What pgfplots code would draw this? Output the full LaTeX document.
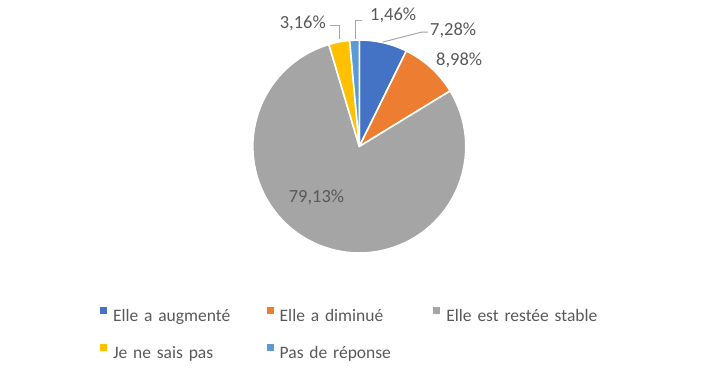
\documentclass[border=0pt]{standalone}
\usepackage{fontspec}
\setmainfont{Carlito}
\usepackage{pgfplots}
\usepackage{pgfplotstable}
\pgfplotsset{compat=1.18}
\definecolor{cBlue}{HTML}{4472C4}
\definecolor{cOrange}{HTML}{ED7D31}
\definecolor{cGray}{HTML}{A5A5A5}
\definecolor{cYellow}{HTML}{FFC000}
\definecolor{cLight}{HTML}{5B9BD5}
\definecolor{cText}{HTML}{595959}
\definecolor{cLead}{HTML}{A6A6A6}

\pgfplotstableread{
value
7.28
8.98
79.13
3.16
1.46
}\piedata
\pgfplotstablecreatecol[create col/expr accum={\pgfmathaccuma + \thisrow{value}}{0}]{cum}\piedata

\newcommand\pieslice[2]{%
  \pgfplotstablegetelem{#1}{value}\of\piedata \edef\sv{\pgfplotsretval}%
  \pgfplotstablegetelem{#1}{cum}\of\piedata \edef\sc{\pgfplotsretval}%
  \pgfmathsetmacro\aend{90-3.6*\sc}%
  \pgfmathsetmacro\astart{90-3.6*(\sc-\sv)}%
  \edef\temp{\noexpand\addplot[forget plot, fill=#2, draw=white, line width=1.6pt, line join=round, domain=\aend:\astart, samples=90] ({359.3+106.5*cos(x)},{229.5+106.5*sin(x)}) -- (axis cs:359.3,229.5) -- cycle;}%
  \temp
}

\newcommand\lblfont{\fontsize{18.5}{21}\selectfont}

\begin{document}
\begin{tikzpicture}
\begin{axis}[
  width=719pt, height=376pt, scale only axis,
  xmin=0, xmax=719, ymin=0, ymax=376,
  hide axis, clip=false,
  legend columns=3,
  legend cell align=left,
  legend image code/.code={\fill[#1, draw=none] (0pt,3pt) rectangle (7pt,10pt);},
  legend style={at={(axis cs:100,69)}, anchor=north west, draw=none, fill=none,
    inner sep=0pt, outer sep=0pt, column sep=0pt, row sep=19pt,
    font=\fontsize{17.5}{20}\selectfont, text=cText,
    nodes={text width=147.7pt, text height=12pt, text depth=4pt, inner ysep=0pt, inner xsep=6pt}},
]
\pieslice{0}{cBlue}
\pieslice{1}{cOrange}
\pieslice{2}{cGray}
\pieslice{3}{cYellow}
\pieslice{4}{cLight}

% leader lines
\addplot[forget plot, cLead, line width=1pt] coordinates {(383,334) (422,344) (428,344)};
\addplot[forget plot, cLead, line width=1pt] coordinates {(355,337) (355,355.5) (362,355.5)};
\addplot[forget plot, cLead, line width=1pt] coordinates {(339.3,337) (339.3,351) (330,351)};

% data labels
\node[anchor=base west, inner sep=0pt, text=cText, font=\lblfont] at (axis cs:430,341) {7,28\%};
\node[anchor=base west, inner sep=0pt, text=cText, font=\lblfont] at (axis cs:436,311) {8,98\%};
\node[anchor=base west, inner sep=0pt, text=cText, font=\lblfont] at (axis cs:370,355.5) {1,46\%};
\node[anchor=base east, inner sep=0pt, text=cText, font=\lblfont] at (axis cs:326,348) {3,16\%};
\node[anchor=base, inner sep=0pt, text=cText, font=\lblfont] at (axis cs:316.5,173.3) {79,13\%};

\addlegendimage{fill=cBlue}
\addlegendimage{fill=cOrange}
\addlegendimage{fill=cGray}
\addlegendimage{fill=cYellow}
\addlegendimage{fill=cLight}
\legend{\mbox{Elle a augmenté}, \mbox{Elle a diminué}, \mbox{Elle est restée stable}, \mbox{Je ne sais pas}, \mbox{Pas de réponse}}
\end{axis}
\pgfresetboundingbox
\path (current axis.south west) rectangle (current axis.north east);
\end{tikzpicture}
\end{document}
